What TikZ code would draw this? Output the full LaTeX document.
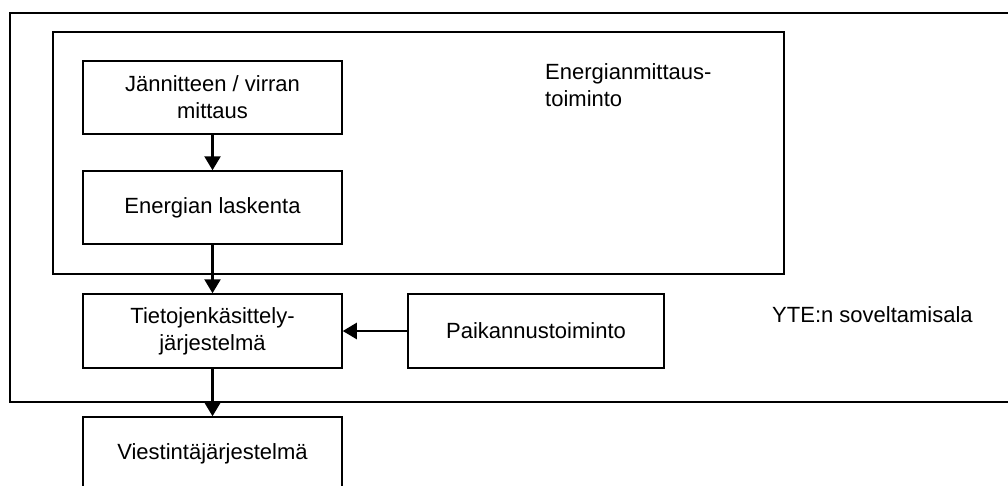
\documentclass[tikz,border=0pt]{standalone}
\usepackage{fontspec}
\setmainfont{Liberation Sans}
\usetikzlibrary{arrows.meta}
\begin{document}
\begin{tikzpicture}[x=1pt,y=-1pt,
  txt/.style={font=\fontsize{22}{27}\selectfont},
  box/.style={draw, line width=1.5pt, minimum width=259pt, minimum height=73pt,
              align=center, inner sep=0pt, txt},
  frame/.style={draw, line width=1.5pt},
  arr/.style={line width=2.5pt, -{Triangle[length=14pt,width=16pt]}},
  lbl/.style={align=left, inner sep=0pt, txt}]
\useasboundingbox (0,0) rectangle (1008,485);
\draw[frame] (10,13) rectangle (1015,402);
\draw[frame] (53,32) rectangle (784,274);
\node[box] (mit) at (212.5,97.5) {Jännitteen / virran\\mittaus};
\node[box] (las) at (212.5,207.5) {Energian laskenta};
\node[box, minimum height=74pt] (tie) at (212.5,331) {Tietojenkäsittely-\\järjestelmä};
\node[box, minimum height=74pt, minimum width=256pt] (paik) at (536,331) {Paikannustoiminto};
\node[box] (vie) at (212.5,453.5) {Viestintäjärjestelmä};
\node[lbl, anchor=north west] (emt) at (545,63) {Energianmittaus-\\toiminto};
\node[lbl, anchor=base west] (yte) at (772,322) {YTE:n soveltamisala};
\draw[arr] (mit.south) -- (las.north);
\draw[arr] (las.south) -- (tie.north);
\draw[arr] (paik.west) -- (tie.east);
\draw[arr] (tie.south) -- (vie.north);
\end{tikzpicture}
\end{document}
